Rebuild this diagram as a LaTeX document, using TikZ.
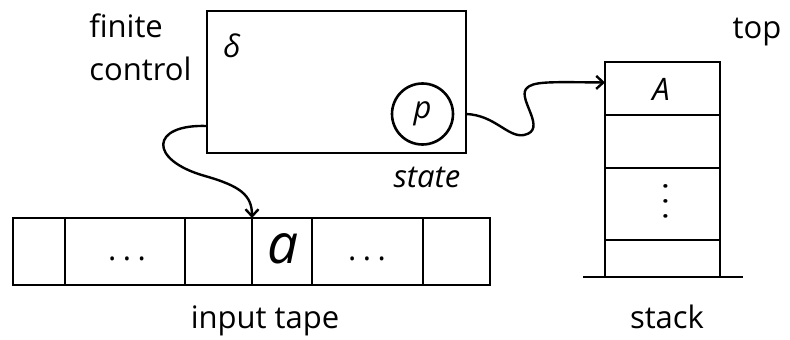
\documentclass[tikz,border=0pt]{standalone}
\usepackage{fontspec}
\setmainfont{Open Sans}
\usetikzlibrary{arrows.meta}
\begin{document}
\begin{tikzpicture}[x=1pt,y=-1pt,
  line width=2.6pt,
  box/.style={draw, inner sep=0pt, outer sep=0pt, anchor=north west},
  lbl/.style={font=\fontsize{31}{36}\selectfont, inner sep=0pt},
  ilbl/.style={font=\fontsize{31}{36}\selectfont\itshape, inner sep=0pt},
  link/.style={line width=2.4pt, -{Straight Barb[length=7pt,width=13pt]}}
]
\useasboundingbox (0,0) rectangle (790,340);

% finite control with its current state
\node[box, minimum width=259pt, minimum height=142pt] (fc) at (207,11) {};
\node[draw, circle, minimum size=61pt, inner sep=0pt, font=\fontsize{31}{36}\selectfont\itshape] (st) at (422.5,114) {p};
\node[ilbl] (delta) at (232,46) {δ};
\node[lbl, align=left, anchor=base west, font=\fontsize{31}{43}\selectfont] (fclabel) at (88,80) {finite\\control};
\node[ilbl, anchor=base] (stlabel) at (427,187) {state};

% input tape
\node[box, minimum width=52pt,  minimum height=67pt] (c1) at (13,218) {};
\node[box, minimum width=120pt, minimum height=67pt] (c2) at (65,218) {};
\node[box, minimum width=67pt,  minimum height=67pt] (c3) at (185,218) {};
\node[box, minimum width=60pt,  minimum height=67pt] (c4) at (252,218) {};
\node[box, minimum width=111pt, minimum height=67pt] (c5) at (312,218) {};
\node[box, minimum width=67pt,  minimum height=67pt] (c6) at (423,218) {};
\node[lbl, anchor=base] (d1) at (127,260.5) {.\hspace{6.5pt}.\hspace{6.5pt}.};
\node[lbl, anchor=base] (d2) at (367,260.5) {.\hspace{6.5pt}.\hspace{6.5pt}.};
\node[inner sep=0pt, anchor=base, font=\fontsize{55}{60}\selectfont\itshape] (sym) at (283,263) {a};
\node[lbl, anchor=base] (tapelabel) at (265,328) {input tape};

% stack
\node[box, minimum width=115pt, minimum height=53pt] (s1) at (605,62) {};
\node[box, minimum width=115pt, minimum height=53pt] (s2) at (605,115) {};
\node[box, minimum width=115pt, minimum height=72pt] (s3) at (605,168) {};
\node[box, minimum width=115pt, minimum height=37pt] (s4) at (605,240) {};
\draw ([xshift=-22pt]s4.south west) -- ([xshift=23pt]s4.south east);
\node[ilbl, anchor=base] (top) at (661,100) {A};
% vertical ellipsis: a dotted row turned upright
\node[lbl, anchor=base, rotate=90] (vd) at (667.5,201.5) {.\hspace{7pt}.\hspace{7pt}.};
\node[lbl, anchor=base] (toplabel) at (757,38) {top};
\node[lbl, anchor=base] (stacklabel) at (667,328) {stack};

% reading head and stack access
\draw[link] ([yshift=27pt]fc.south west)
  .. controls (150,124) and (148,160) .. (205,176)
  .. controls (240,186) and (252,195) .. (c4.north west);
\draw[link] (fc.east |- st)
  .. controls (495,115) and (508,138) .. (524,135)
  .. controls (548,130) and (518,100) .. (526,89)
  .. controls (532,81) and (550,82) .. ([yshift=6pt]s1.west);
\end{tikzpicture}
\end{document}
